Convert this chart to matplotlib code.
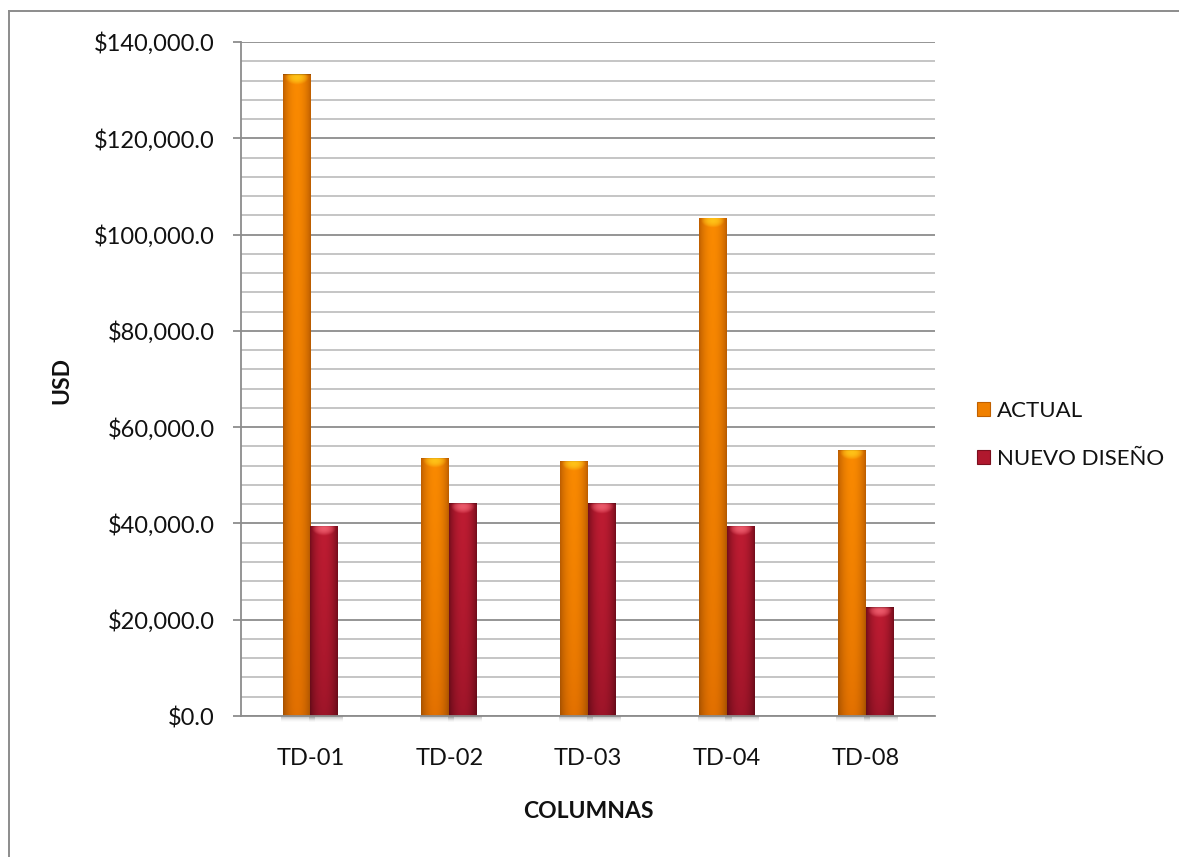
import numpy as np
import matplotlib
matplotlib.use("Agg")
import matplotlib.pyplot as plt
from matplotlib.patches import Patch
from matplotlib.lines import Line2D
from matplotlib.ticker import MultipleLocator, FuncFormatter
from matplotlib.colors import to_rgb

categories = ["TD-01", "TD-02", "TD-03", "TD-04", "TD-08"]
actual = [133300, 53600, 53000, 103500, 55300]
nuevo = [39500, 44200, 44200, 39500, 22600]
series_names = ["ACTUAL", "NUEVO DISEÑO"]

plt.rcParams['font.family'] = ['Lato', 'DejaVu Sans']

W, H = 1179, 857
fig = plt.figure(figsize=(W / 100, H / 100), dpi=100)
ax = fig.add_axes([241 / W, 141 / H, 694 / W, 674 / H])

YMAX = 140000
px_y = YMAX / 674.0  # data units per pixel vertically

x = np.arange(len(categories))
w = 0.2
bars_a = ax.bar(x - w / 2, actual, w, color='#F58400', zorder=3, linewidth=0)
bars_n = ax.bar(x + w / 2, nuevo, w, color='#B0182E', zorder=3, linewidth=0)


def shade_bar(patch, edge, center, low, cap):
    """Fill a bar with a cylindrical gradient and a glossy top cap."""
    x0, y0 = patch.get_x(), patch.get_y()
    bw, bh = patch.get_width(), patch.get_height()
    nx, ny = 48, 600
    t = (np.arange(nx) + 0.5) / nx
    g = np.sin(np.pi * t) ** 0.7
    yy = (np.arange(ny) + 0.5) / ny * bh  # height from bottom
    edge, center, low, cap = map(np.array, map(to_rgb, (edge, center, low, cap)))
    # horizontal profile
    top_row = edge[None, :] + (center - edge)[None, :] * g[:, None]
    low_row = edge[None, :] * 0.85 + (low - edge * 0.85)[None, :] * g[:, None]
    frac = np.clip(yy / max(bh, 1), 0, 1)[:, None, None]
    frac = frac ** 0.6
    img = low_row[None, :, :] * (1 - frac) + top_row[None, :, :] * frac
    # glossy cap near top
    d = (bh - yy) / px_y  # pixels from top
    u = (t - 0.5) / 0.42
    hl = 1 - (u[None, :] ** 2) - ((d[:, None] - 3.5) / 7.0) ** 2
    hl = np.clip(hl, 0, 1)[:, :, None]
    img = img * (1 - 0.9 * hl) + cap[None, None, :] * 0.9 * hl
    # thin darker rim at the very top
    rim = (d < 1.2)[:, None, None]
    img = np.where(rim, img * 0.8, img)
    img = np.clip(img, 0, 1)
    im = ax.imshow(img, extent=(x0, x0 + bw, y0, y0 + bh), origin='lower',
                   aspect='auto', interpolation='bilinear', zorder=3.5)
    im.set_clip_path(patch)

    # soft shadow under the base
    sh_h = 7 * px_y
    s = np.linspace(0, 1, 20)
    alpha = (1 - s) ** 2 * 0.45
    sh = np.zeros((20, 2, 4))
    sh[:, :, :3] = 0.35
    sh[:, :, 3] = alpha[:, None]
    ax.imshow(sh, extent=(x0 - 0.01, x0 + bw + 0.03, -sh_h, 0), origin='upper',
              aspect='auto', interpolation='bilinear', zorder=2.5, clip_on=False)


for p in bars_a:
    shade_bar(p, '#B85A00', '#FA8A00', '#E06E00', '#FFC81A')
for p in bars_n:
    shade_bar(p, '#6E0C1A', '#BE1C32', '#9A1428', '#F06070')

ax.set_xlim(-0.5, len(categories) - 0.5)
ax.set_ylim(0, YMAX)

ax.yaxis.set_major_locator(MultipleLocator(20000))
ax.yaxis.set_minor_locator(MultipleLocator(4000))
ax.yaxis.set_major_formatter(FuncFormatter(lambda v, _: "${:,.1f}".format(v)))
ax.grid(True, which='major', axis='y', color='#8C8C8C', linewidth=1.3, zorder=1)
ax.grid(True, which='minor', axis='y', color='#C0C0C0', linewidth=1.3, zorder=1)
ax.set_axisbelow(True)

ax.set_xticks(x)
ax.set_xticklabels(categories)

for side in ('top', 'right'):
    ax.spines[side].set_visible(False)
for side in ('left', 'bottom'):
    ax.spines[side].set_color('#8C8C8C')
    ax.spines[side].set_linewidth(1.3)
    ax.spines[side].set_zorder(4)

ax.tick_params(axis='y', which='major', length=6, width=1.3, color='#8C8C8C',
               pad=13, labelsize=17, labelcolor='#111111')
ax.tick_params(axis='y', which='minor', length=0)
ax.tick_params(axis='x', length=0, pad=23, labelsize=17, labelcolor='#111111')

fig.text(62 / W, 1 - 381 / H, "USD", rotation=90, ha='center', va='center',
         fontsize=16.5, fontweight='bold', color='#111111')
fig.text(588 / W, 1 - 811 / H, "COLUMNAS", ha='center', va='center',
         fontsize=16.5, fontweight='bold', color='#111111')

handles = [Patch(facecolor='#F08000', edgecolor='#C06000', linewidth=0.8),
           Patch(facecolor='#B0182E', edgecolor='#7A0F1E', linewidth=0.8)]
fig.legend(handles, series_names, loc='center left',
           bbox_to_anchor=(968 / W, 1 - 435 / H), frameon=False,
           fontsize=16, handlelength=0.6, handleheight=0.6,
           handletextpad=0.3, labelspacing=1.25, borderaxespad=0,
           labelcolor='#111111')

# chart frame (left and top edges)
fig.add_artist(Line2D([9 / W, 9 / W], [0, 1 - 11 / H], transform=fig.transFigure,
                      color='#8C8C8C', linewidth=1.4))
fig.add_artist(Line2D([9 / W, 1], [1 - 11 / H, 1 - 11 / H], transform=fig.transFigure,
                      color='#8C8C8C', linewidth=1.4))

fig.savefig("out.png", dpi=100, facecolor='white')
